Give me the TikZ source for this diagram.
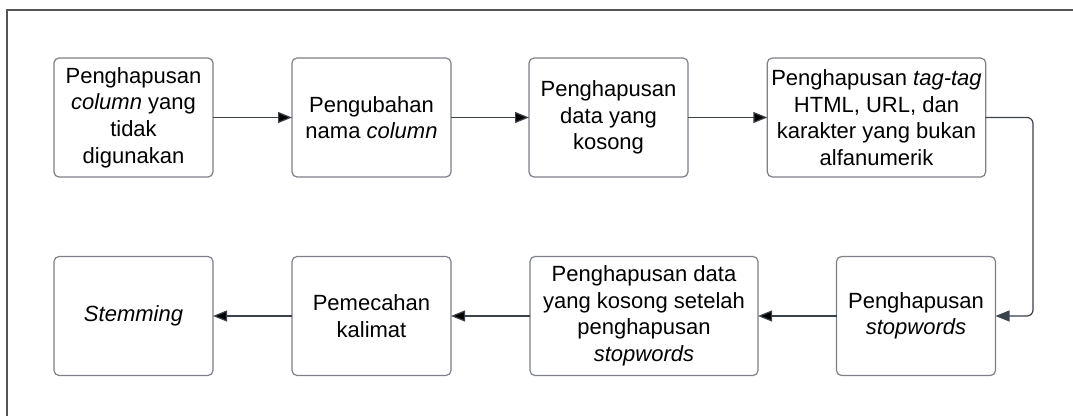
\documentclass[tikz,border=0pt]{standalone}
\usepackage{fontspec}
\setmainfont{Liberation Sans}
\usetikzlibrary{arrows.meta}

\definecolor{boxline}{HTML}{7C8088}
\definecolor{arrowcol}{HTML}{3B424C}
\definecolor{framecol}{HTML}{555555}

\begin{document}
\begin{tikzpicture}[x=0.5pt,y=-0.5pt,
	box/.style={draw=boxline,line width=0.6pt,rounded corners=2.5pt,align=center,inner sep=2pt,outer sep=0pt,minimum width=79.5pt,minimum height=59.5pt,font=\fontsize{11}{13.3}\selectfont},
	flow/.style={draw=arrowcol,line width=0.6pt,-{Triangle[length=7pt,width=5.5pt]}}]
	\useasboundingbox (0,0) rectangle (1073,416);
	\draw[framecol,line width=1pt] (7,416) -- (7,10) -- (1073,10);

	\node (hapuscol) at (133.5,117.5) [box] {Penghapusan\\\textit{column} yang\\tidak\\digunakan};
	\node (ubahnama) at (371.5,117.5) [box] {Pengubahan\\nama \textit{column}};
	\node (hapuskosong) at (608.5,117.5) [box] {Penghapusan\\data yang\\kosong};
	\node (hapustag) at (876.5,117.5) [box,minimum width=108.5pt] {Penghapusan \textit{tag-tag}\\HTML, URL, dan\\karakter yang bukan\\alfanumerik};

	\node (hapusstop) at (916,316) [box] {Penghapusan\\\textit{stopwords}};
	\node (hapuskosong2) at (644,316) [box,minimum width=114pt] {Penghapusan data\\yang kosong setelah\\penghapusan\\\textit{stopwords}};
	\node (pecah) at (371.5,316) [box] {Pemecahan\\kalimat};
	\node (stem) at (133.5,316) [box] {\textit{Stemming}};

	\coordinate (belok) at (1033,117.5);
	\path[flow] (hapuscol) edge (ubahnama);
	\path[flow] (ubahnama) edge (hapuskosong);
	\path[flow] (hapuskosong) edge (hapustag);
	\draw[flow,rounded corners=3pt] (hapustag.east) -- (belok) |- (hapusstop.east);
	\path[flow] (hapusstop) edge (hapuskosong2);
	\path[flow] (hapuskosong2) edge (pecah);
	\path[flow] (pecah) edge (stem);
\end{tikzpicture}
\end{document}
